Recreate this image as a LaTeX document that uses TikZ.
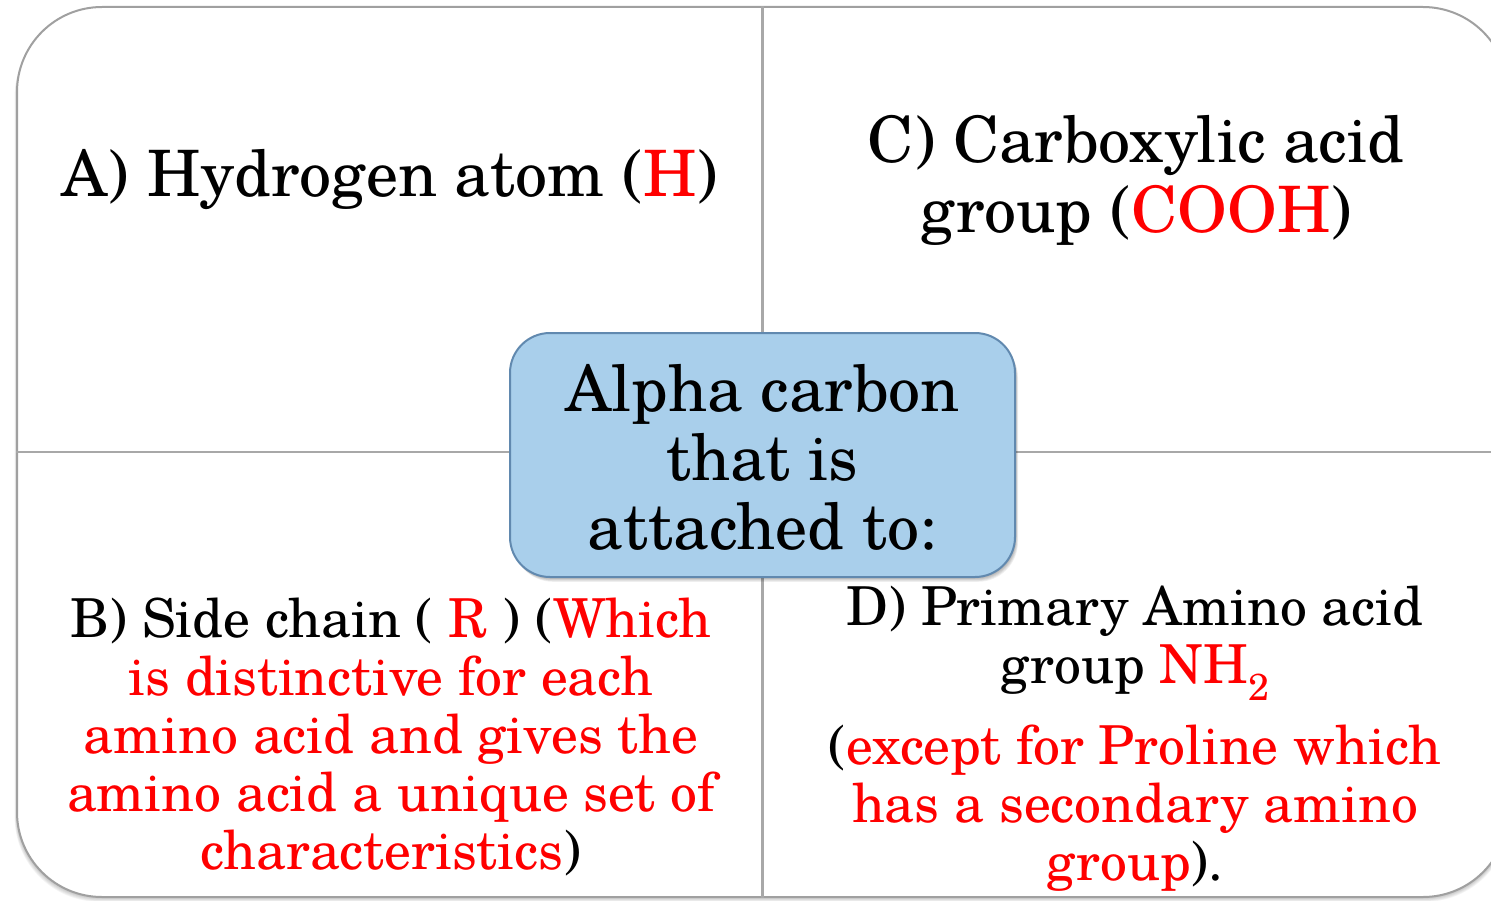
\documentclass[tikz,border=0pt]{standalone}
\usepackage{fontspec}
\setmainfont{TeX Gyre Schola}
\definecolor{boxfill}{HTML}{A9CFEB}
\definecolor{boxline}{HTML}{6189AF}
\definecolor{gridline}{HTML}{A8A8A8}
\definecolor{framecol}{HTML}{A0A0A0}
\definecolor{txtred}{HTML}{FF0000}
\newcommand{\rd}[1]{\textcolor{txtred}{#1}}
\tikzset{
  framebox/.style={draw=framecol, line width=2pt, fill=white, rounded corners=85pt,
    minimum width=1491pt, minimum height=890pt, inner sep=0pt},
  alphabox/.style={draw=boxline, line width=2pt, fill=boxfill, rounded corners=40pt,
    minimum width=505pt, minimum height=244pt, inner sep=0pt},
  alphatxt/.style={align=center, inner sep=0pt, font=\fontsize{64}{69}\selectfont},
  bigtxt/.style={align=center, inner sep=0pt, font=\fontsize{64}{70}\selectfont},
  smalltxt/.style={align=center, inner sep=0pt, font=\fontsize{53.7}{58}\selectfont},
  gridl/.style={draw=gridline, line width=2.2pt},
}
\begin{document}
\begin{tikzpicture}[x=1pt,y=-1pt]
\useasboundingbox (0,0) rectangle (1491,901);
\clip (0,0) rectangle (1491,901);
% frame shadow
\foreach \k in {1,...,6}{
  \fill[black, opacity=0.045, rounded corners=85pt] (17-0.4*\k,7+0.8*\k) rectangle (1508+0.3*\k,897+0.8*\k);
}
\node[framebox] (frame) at (762.5,452) {};
\draw[gridl] (frame.north) -- (frame.south);
\draw[gridl] (frame.west) -- (frame.east);
% alpha box shadow
\foreach \k in {1,...,6}{
  \fill[black, opacity=0.06, rounded corners=40pt] (510+0.5*\k,333+0.8*\k) rectangle (1015+0.5*\k,577+0.8*\k);
}
\node[alphabox] (alpha) at (762.5,455) {};
\node[alphatxt] (alphat) at ([yshift=-2.5pt]alpha.center) {Alpha carbon\\that is\\attached to:};
\node[bigtxt, anchor=base] (qa) at (390,197) {A) Hydrogen atom (\rd{H})};
\node[bigtxt, anchor=base] (qc) at (1136,233) {C) Carboxylic acid\\group (\rd{COOH})};
\node[smalltxt, anchor=base] (qb) at (391,869) {B) Side chain ( \rd{R} ) (\rd{Which}\\\rd{is distinctive for each}\\\rd{amino acid and gives the}\\\rd{amino acid a unique set of}\\\rd{characteristics})};
\node[smalltxt, anchor=base] (qd) at (1135,880) {D) Primary Amino acid\\group \rd{NH\textsubscript{2}}\\[23pt](\rd{except for Proline which}\\\rd{has a secondary amino}\\\rd{group}).};
\end{tikzpicture}
\end{document}
